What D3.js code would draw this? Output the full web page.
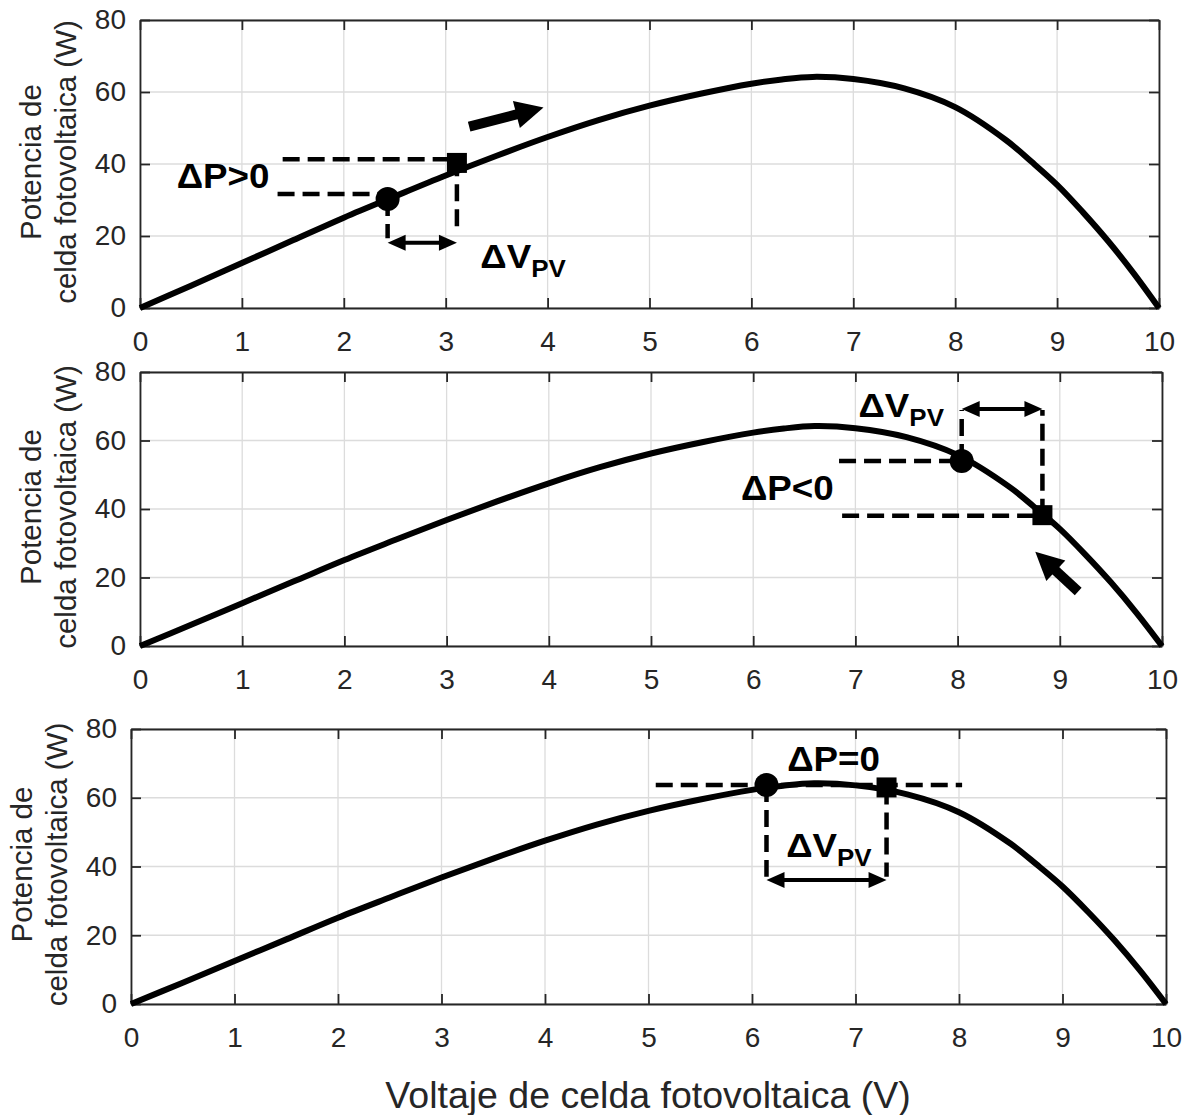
<!DOCTYPE html>
<html>
<head>
<meta charset="utf-8">
<script src="https://cdn.jsdelivr.net/npm/d3@7"></script>
<style>
  body { margin: 0; background: #fff; }
  text { font-family: "Liberation Sans", Arial, Helvetica, sans-serif; }
</style>
</head>
<body>
<svg id="chart" width="1188" height="1115"></svg>
<script>
// P-V curve of the cell
const voltage = [0, 0.5, 1, 1.5, 2, 2.5, 3, 3.5, 4, 4.5, 5, 5.5, 6, 6.3, 6.6, 7, 7.5, 8, 8.5, 8.75, 9, 9.25, 9.5, 9.75, 10]
const power = [0, 6.2, 12.5, 18.8, 25.1, 31, 36.8, 42.3, 47.5, 52.2, 56.2, 59.5, 62.3, 63.5, 64.2, 63.6, 61, 55.8, 46.6, 40.6, 34.2, 26.7, 18.6, 9.7, 0]

const xTicks = [0, 1, 2, 3, 4, 5, 6, 7, 8, 9, 10]
const yTicks = [0, 20, 40, 60, 80]

// annotations, one entry per panel, in data units (V, W)
const opPoint = [[2.43, 30.3], [8.04, 54.0], [6.14, 63.7]]      // circle
const nextPoint = [[3.11, 40.3], [8.83, 38.2], [7.30, 63.0]]    // square
// horizontal dashes: [vStart, p, vEnd]
const hDash = [
    [[1.35, 31.7, 2.43], [1.40, 41.3, 3.11]],
    [[6.84, 54.0, 8.04], [6.87, 38.0, 8.83]],
    [[5.07, 63.7, 8.03]]
]
// vertical dashes: [v, pStart, pEnd]
const vDash = [
    [[2.43, 30.3, 19.4], [3.11, 41.3, 20.8]],
    [[8.04, 54.0, 68.9], [8.83, 38.0, 68.9]],
    [[6.14, 63.7, 37.0], [7.30, 63.0, 37.0]]
]
// double arrow for delta V: [v0, v1, p]
const dvArrow = [[2.43, 3.11, 18.1], [8.04, 8.83, 69.2], [6.14, 7.30, 36.1]]
// direction arrow: [[vTail, pTail], [vTip, pTip]]
const moveArrow = [[[3.23, 50.4], [3.96, 55.7]], [[9.18, 15.9], [8.76, 27.5]], null]
const dpLabel = [["ΔP>0", 0.36, 33.3], ["ΔP<0", 5.88, 42.6], ["ΔP=0", 6.34, 67.9]]
const dvLabel = [[3.34, 11.1], [7.03, 67.0], [6.33, 42.8]]

const panels = [
    {x0: 140, x1: 1159, y0: 20, y1: 308},
    {x0: 140, x1: 1162, y0: 372, y1: 646},
    {x0: 131, x1: 1166, y0: 729, y1: 1004}
]

const axisColor = '#262626'
const svg = d3.select('#chart')

function arrowHead(g, tip, from, len, hw) {
    const a = Math.atan2(tip[1] - from[1], tip[0] - from[0])
    const bx = tip[0] - len * Math.cos(a), by = tip[1] - len * Math.sin(a)
    const nx = -Math.sin(a) * hw, ny = Math.cos(a) * hw
    g.append('path')
        .attr('d', `M${tip[0]},${tip[1]}L${bx + nx},${by + ny}L${bx - nx},${by - ny}Z`)
        .attr('fill', '#000')
}

function shorten(p, from, d) {
    const a = Math.atan2(p[1] - from[1], p[0] - from[0])
    return [p[0] - d * Math.cos(a), p[1] - d * Math.sin(a)]
}

panels.forEach((pn, i) => {
    const x = d3.scaleLinear().domain([0, 10]).range([pn.x0, pn.x1])
    const y = d3.scaleLinear().domain([0, 80]).range([pn.y1, pn.y0])
    const g = svg.append('g')

    // grid
    g.selectAll('.gx').data(xTicks).enter().append('line')
        .attr('x1', d => x(d)).attr('x2', d => x(d))
        .attr('y1', pn.y0).attr('y2', pn.y1)
        .attr('stroke', '#dcdcdc').attr('stroke-width', 1.3)
    g.selectAll('.gy').data(yTicks).enter().append('line')
        .attr('x1', pn.x0).attr('x2', pn.x1)
        .attr('y1', d => y(d)).attr('y2', d => y(d))
        .attr('stroke', '#dcdcdc').attr('stroke-width', 1.3)

    // axes, ticks pointing inward on all four sides
    const axes = [
        g.append('g').attr('transform', `translate(0,${pn.y1})`)
            .call(d3.axisBottom(x).tickValues(xTicks).tickSize(-10).tickSizeOuter(0).tickPadding(23)),
        g.append('g').attr('transform', `translate(${pn.x0},0)`)
            .call(d3.axisLeft(y).tickValues(yTicks).tickSize(-10).tickSizeOuter(0).tickPadding(14)),
        g.append('g').attr('transform', `translate(0,${pn.y0})`)
            .call(d3.axisTop(x).tickValues(xTicks).tickSize(-10).tickSizeOuter(0).tickFormat('')),
        g.append('g').attr('transform', `translate(${pn.x1},0)`)
            .call(d3.axisRight(y).tickValues(yTicks).tickSize(-10).tickSizeOuter(0).tickFormat(''))
    ]
    axes.forEach(a => {
        a.attr('font-family', null).attr('font-size', null)
        a.select('.domain').attr('stroke', axisColor).attr('stroke-width', 1.8)
        a.selectAll('.tick line').attr('stroke', axisColor).attr('stroke-width', 1.8)
        a.selectAll('.tick text').attr('fill', axisColor).attr('font-size', 28)
    })

    // y label (two lines)
    const cy = (pn.y0 + pn.y1) / 2 - 2
    const yl = g.append('text')
        .attr('transform', `translate(${pn.x0 - 64},${cy}) rotate(-90)`)
        .attr('text-anchor', 'middle').attr('font-size', 29.5).attr('fill', axisColor)
    yl.append('tspan').attr('x', 0).attr('y', -35).text('Potencia de')
    yl.append('tspan').attr('x', 0).attr('y', 0).text('celda fotovoltaica (W)')

    // curve
    const line = d3.line()
        .x(d => x(d[0]))
        .y(d => y(d[1]))
        .curve(d3.curveCatmullRom.alpha(0.5))
    g.append('path')
        .datum(voltage.map((v, k) => [v, power[k]]))
        .attr('fill', 'none')
        .attr('stroke', '#000')
        .attr('stroke-width', 6)
        .attr('stroke-linejoin', 'round')
        .attr('d', line)

    // dashed guides
    const dash = '17,8'
    hDash[i].forEach(d => {
        g.append('line')
            .attr('x1', x(d[0])).attr('x2', x(d[2]))
            .attr('y1', y(d[1])).attr('y2', y(d[1]))
            .attr('stroke', '#000').attr('stroke-width', 4.5).attr('stroke-dasharray', dash)
    })
    vDash[i].forEach(d => {
        g.append('line')
            .attr('x1', x(d[0])).attr('x2', x(d[0]))
            .attr('y1', y(d[1])).attr('y2', y(d[2]))
            .attr('stroke', '#000').attr('stroke-width', 4.5).attr('stroke-dasharray', dash)
    })

    // delta V double arrow
    const da = dvArrow[i]
    const pa = [x(da[0]), y(da[2])], pb = [x(da[1]), y(da[2])]
    const sa = shorten(pa, pb, 8), sb = shorten(pb, pa, 8)
    g.append('line')
        .attr('x1', sa[0]).attr('y1', sa[1]).attr('x2', sb[0]).attr('y2', sb[1])
        .attr('stroke', '#000').attr('stroke-width', 4)
    arrowHead(g, pa, pb, 18, 8)
    arrowHead(g, pb, pa, 18, 8)

    // direction arrow
    if (moveArrow[i]) {
        const tail = [x(moveArrow[i][0][0]), y(moveArrow[i][0][1])]
        const tip = [x(moveArrow[i][1][0]), y(moveArrow[i][1][1])]
        const st = shorten(tip, tail, 20)
        g.append('line')
            .attr('x1', tail[0]).attr('y1', tail[1]).attr('x2', st[0]).attr('y2', st[1])
            .attr('stroke', '#000').attr('stroke-width', 10)
        arrowHead(g, tip, tail, 28, 14)
    }

    // markers
    g.append('circle')
        .attr('cx', x(opPoint[i][0])).attr('cy', y(opPoint[i][1])).attr('r', 12)
        .attr('fill', '#000')
    g.append('rect')
        .attr('x', x(nextPoint[i][0]) - 10).attr('y', y(nextPoint[i][1]) - 10)
        .attr('width', 20).attr('height', 20)
        .attr('fill', '#000')

    // labels
    g.append('text')
        .attr('transform', `translate(${x(dpLabel[i][1])},${y(dpLabel[i][2])}) scale(1.05,1)`)
        .attr('font-size', 35).attr('font-weight', 'bold').attr('fill', '#000')
        .text(dpLabel[i][0])
    const dv = g.append('text')
        .attr('transform', `translate(${x(dvLabel[i][0])},${y(dvLabel[i][1])}) scale(1.08,1)`)
        .attr('font-size', 34).attr('font-weight', 'bold').attr('fill', '#000')
    dv.append('tspan').text('ΔV')
    dv.append('tspan').attr('font-size', 24).attr('dy', 9).text('PV')
})

// shared x label
svg.append('text')
    .attr('x', 648).attr('y', 1108)
    .attr('text-anchor', 'middle')
    .attr('font-size', 37.5).attr('fill', axisColor)
    .text('Voltaje de celda fotovoltaica (V)')
</script>
</body>
</html>
